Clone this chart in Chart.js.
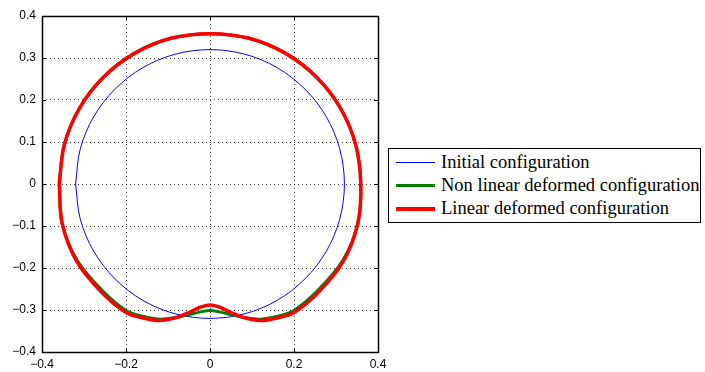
<!DOCTYPE html>
<html>
<head>
<meta charset="utf-8">
<script src="https://cdn.jsdelivr.net/npm/chart.js@4.4.0/dist/chart.umd.min.js"></script>
<style>
  body { margin: 0; background: #fff; }
  #wrap { position: relative; width: 705px; height: 372px; }
  #legend {
    position: absolute; left: 388px; top: 148px; width: 313px; height: 75px;
    box-sizing: border-box; border: 1px solid #000; padding-top: 2px; background: #fff;
    font-family: "Liberation Serif", "Times New Roman", serif; font-size: 18.5px; color: #000;
  }
  .row { display: flex; align-items: center; height: 23px; line-height: 23px; white-space: nowrap; }
  .swatch { width: 39px; margin-left: 7px; margin-right: 6px; }
</style>
</head>
<body>
<div id="wrap">
  <canvas id="chart" width="705" height="372"></canvas>
  <div id="legend"></div>
</div>
<script>
// -------- data --------
const xTickLabels = ["\u22120.4", "\u22120.2", "0", "0.2", "0.4"];
const yTickLabels = ["\u22120.4", "\u22120.3", "\u22120.2", "\u22120.1", "0", "0.1", "0.2", "0.3", "0.4"];

// initial configuration (circle r ~ 0.32)
const initX = [-0.32, -0.309, -0.277, -0.226, -0.16, -0.083, 0, 0.083, 0.16, 0.226, 0.277, 0.309, 0.32,
               0.309, 0.277, 0.226, 0.16, 0.083, 0, -0.083, -0.16, -0.226, -0.277, -0.309, -0.32];
const initY = [0, -0.083, -0.16, -0.226, -0.277, -0.309, -0.32, -0.309, -0.277, -0.226, -0.16, -0.083, 0,
               0.083, 0.16, 0.226, 0.277, 0.309, 0.32, 0.309, 0.277, 0.226, 0.16, 0.083, 0];

// non linear deformed configuration
const nonlinX = [-0.359, -0.352, -0.316, -0.255, -0.2, -0.16, -0.12, -0.08, -0.05, -0.025, 0,
                 0.025, 0.05, 0.08, 0.12, 0.16, 0.2, 0.255, 0.316, 0.352, 0.359,
                 0.347, 0.311, 0.254, 0.18, 0.093, 0, -0.093, -0.18, -0.254, -0.311, -0.347, -0.359];
const nonlinY = [0, -0.094, -0.182, -0.255, -0.301, -0.315, -0.322, -0.318, -0.311, -0.305, -0.301,
                 -0.305, -0.311, -0.318, -0.322, -0.315, -0.301, -0.255, -0.182, -0.094, 0,
                 0.093, 0.18, 0.254, 0.311, 0.347, 0.358, 0.347, 0.311, 0.254, 0.18, 0.093, 0];

// linear deformed configuration
const linX = [-0.359, -0.352, -0.318, -0.258, -0.2, -0.16, -0.12, -0.08, -0.05, -0.025, 0,
              0.025, 0.05, 0.08, 0.12, 0.16, 0.2, 0.258, 0.318, 0.352, 0.359,
              0.347, 0.311, 0.254, 0.18, 0.093, 0, -0.093, -0.18, -0.254, -0.311, -0.347, -0.359];
const linY = [0, -0.094, -0.183, -0.258, -0.306, -0.319, -0.325, -0.318, -0.306, -0.294, -0.288,
              -0.294, -0.306, -0.318, -0.325, -0.319, -0.306, -0.258, -0.183, -0.094, 0,
              0.093, 0.18, 0.254, 0.311, 0.347, 0.358, 0.347, 0.311, 0.254, 0.18, 0.093, 0];

const pts = (xs, ys) => xs.map((x, i) => ({ x, y: ys[i] }));

// -------- frame + inward ticks, matlab style --------
const frame = {
  id: "frame",
  afterDraw(chart) {
    const { ctx, chartArea: a, scales: { x, y } } = chart;
    ctx.save();
    ctx.strokeStyle = "#000";
    ctx.lineWidth = 1;
    ctx.beginPath();
    x.ticks.forEach(t => {
      const px = Math.round(x.getPixelForValue(t.value)) + 0.5;
      ctx.moveTo(px, a.bottom); ctx.lineTo(px, a.bottom - 4);
      ctx.moveTo(px, a.top);    ctx.lineTo(px, a.top + 4);
    });
    y.ticks.forEach(t => {
      const py = Math.round(y.getPixelForValue(t.value)) + 0.5;
      ctx.moveTo(a.left, py);  ctx.lineTo(a.left + 4, py);
      ctx.moveTo(a.right, py); ctx.lineTo(a.right - 4, py);
    });
    ctx.stroke();
    ctx.lineWidth = 1.5;
    ctx.strokeRect(a.left + 0.5, a.top + 0.5, a.width, a.height);
    ctx.restore();
  }
};

const tickFont = { family: '"Liberation Sans", Arial, Helvetica, sans-serif', size: 12 };

const chart = new Chart(document.getElementById("chart"), {
  type: "scatter",
  data: {
    datasets: [
      { label: "Initial configuration", data: pts(initX, initY), borderColor: "#0000ff",
        borderWidth: 1, order: 2 },
      { label: "Non linear deformed configuration", data: pts(nonlinX, nonlinY), borderColor: "#008000",
        borderWidth: 3, order: 1 },
      { label: "Linear deformed configuration", data: pts(linX, linY), borderColor: "#ff0000",
        borderWidth: 3.5, order: 0 }
    ].map(d => ({ ...d, showLine: true, tension: 0.34, pointRadius: 0, fill: false }))
  },
  options: {
    responsive: false,
    animation: false,
    devicePixelRatio: 1,
    layout: { padding: { left: 0, right: 327, top: 16, bottom: 0 } },
    plugins: { legend: { display: false }, tooltip: { enabled: false } },
    scales: {
      x: {
        type: "linear", min: -0.4, max: 0.4,
        ticks: { stepSize: 0.2, callback: (v, i) => xTickLabels[i], color: "#000", font: tickFont,
                 padding: 5, maxRotation: 0, autoSkip: false },
        grid: { color: "rgba(0,0,0,0.75)", lineWidth: 1, drawTicks: false },
        border: { display: false, dash: [1, 3] },
        afterFit(s) { s.height = 20; }
      },
      y: {
        type: "linear", min: -0.4, max: 0.4,
        ticks: { stepSize: 0.1, callback: (v, i) => yTickLabels[i], color: "#000", font: tickFont,
                 padding: 6, autoSkip: false },
        grid: { color: "rgba(0,0,0,0.75)", lineWidth: 1, drawTicks: false },
        border: { display: false, dash: [1, 3] },
        afterFit(s) { s.width = 42; }
      }
    }
  },
  plugins: [frame]
});

// -------- legend as html (boxed, to the right of the axes) --------
const legend = document.getElementById("legend");
chart.data.datasets.forEach(ds => {
  const row = document.createElement("div");
  row.className = "row";
  const sw = document.createElement("div");
  sw.className = "swatch";
  sw.style.borderTop = `${Math.round(ds.borderWidth)}px solid ${ds.borderColor}`;
  const txt = document.createElement("span");
  txt.textContent = ds.label;
  row.appendChild(sw);
  row.appendChild(txt);
  legend.appendChild(row);
});
</script>
</body>
</html>
